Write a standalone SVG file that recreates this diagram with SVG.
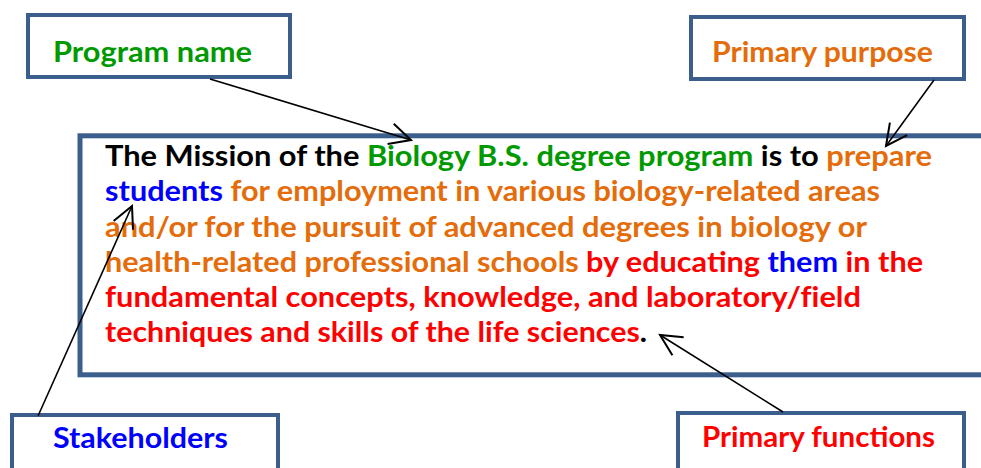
<svg xmlns="http://www.w3.org/2000/svg" width="981" height="468" viewBox="0 0 981 468">
<style>
.box{fill:#fff;stroke:#3B5E8C;stroke-width:4}
.main{fill:#fff;stroke:#3B5E8C;stroke-width:5}
text{font-family:Lato,"Open Sans","Liberation Sans",sans-serif;font-weight:bold;font-size:29px}
.lbl{font-size:28.5px}
.g{fill:#009900}.o{fill:#E46C0A}.b{fill:#0000FF}.r{fill:#FF0000}.k{fill:#000}
.conn{stroke:#000;stroke-width:1.6;fill:none;marker-end:url(#arr)}
</style>
<defs>
<marker id="arr" markerUnits="userSpaceOnUse" markerWidth="30" markerHeight="30" viewBox="-20 -12 24 24" refX="0" refY="0" orient="auto">
<path d="M-17,-8.5 L0,0 L-17,8.5" fill="none" stroke="#000" stroke-width="1.6"/>
</marker>
</defs>
<g id="mission">
<rect class="main" x="80" y="135.8" width="940" height="239"/>
<text x="105" y="166" textLength="827" lengthAdjust="spacingAndGlyphs"><tspan class="k">The Mission of the </tspan><tspan class="g">Biology B.S. degree program</tspan><tspan class="k"> is to </tspan><tspan class="o">prepare</tspan></text>
<text x="105" y="201.3" textLength="775" lengthAdjust="spacingAndGlyphs"><tspan class="b">students</tspan><tspan class="o"> for employment in various biology-related areas</tspan></text>
<text x="105" y="236.5" textLength="762" lengthAdjust="spacingAndGlyphs" class="o">and/or for the pursuit of advanced degrees in biology or</text>
<text x="105" y="271.7" textLength="818" lengthAdjust="spacingAndGlyphs"><tspan class="o">health-related professional schools</tspan><tspan class="r"> by educating </tspan><tspan class="b">them</tspan><tspan class="r"> in the</tspan></text>
<text x="105" y="306.9" textLength="756" lengthAdjust="spacingAndGlyphs" class="r" style="font-variant-ligatures:none">fundamental concepts, knowledge, and laboratory/field</text>
<text x="105" y="342" textLength="542" lengthAdjust="spacingAndGlyphs"><tspan class="r">techniques and skills of the life sciences</tspan><tspan class="k">.</tspan></text>
</g>
<g id="program-name">
<rect class="box" x="28" y="15" width="262" height="62"/>
<text class="lbl g" x="53" y="62" textLength="199" lengthAdjust="spacingAndGlyphs">Program name</text>
</g>
<g id="primary-purpose">
<rect class="box" x="691" y="17" width="273" height="62"/>
<text class="lbl o" x="712" y="62" textLength="221" lengthAdjust="spacingAndGlyphs">Primary purpose</text>
</g>
<g id="stakeholders">
<rect class="box" x="12" y="415" width="266" height="70"/>
<text class="lbl b" x="53" y="448" textLength="175" lengthAdjust="spacingAndGlyphs">Stakeholders</text>
</g>
<g id="primary-functions">
<rect class="box" x="678" y="413" width="286" height="70"/>
<text class="lbl r" x="702" y="447" textLength="233" lengthAdjust="spacingAndGlyphs">Primary functions</text>
</g>
<g id="connectors">
<line class="conn" x1="210" y1="79" x2="411" y2="140"/>
<line class="conn" x1="934" y1="80" x2="886" y2="146"/>
<line class="conn" x1="38" y1="416" x2="132" y2="206"/>
<line class="conn" x1="783" y1="412" x2="660" y2="335"/>
</g>
</svg>
